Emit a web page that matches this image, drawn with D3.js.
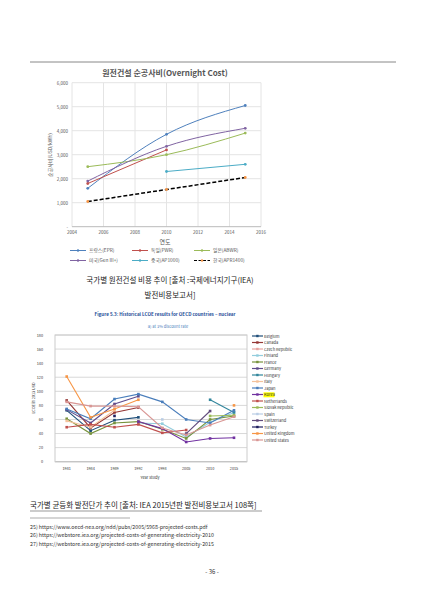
<!DOCTYPE html><html><head><meta charset="utf-8"><script src="https://cdn.jsdelivr.net/npm/d3@7"></script>
<style>body{margin:0;background:#fff}svg{display:block}text{font-family:"Noto Sans CJK KR","Noto Sans",sans-serif}</style></head><body>
<svg id="s" width="424" height="599"></svg>
<script>
// ---- top chart data
const topYears=[2005,2010,2015];
const topNames=["프랑스(EPR)","독일(PWR)","일본(ABWR)","미국(Gen III+)","중국(AP1000)","한국(APR1400)"];
const topColors=["#4f81bd","#c0504d","#9bbb59","#8064a2","#4bacc6","#000"];
const france=[1600,3850,5050];
const germany=[1800,3200,null];
const japan=[2500,3000,3900];
const usa=[1900,3350,4100];
const china=[null,2300,2600];
const korea=[1050,1550,2050];
const topTicks=[1000,2000,3000,4000,5000,6000];
const topXTicks=[2004,2006,2008,2010,2012,2014,2016];
// ---- bottom chart data
const studyYears=["1981","1984","1989","1992","1998","2005","2010","2015"];
const bNames=["Belgium","Canada","Czech Republic","Finland","France","Germany","Hungary","Italy","Japan","Korea","Netherlands","Slovak Republic","Spain","Switzerland","Turkey","United Kingdom","United States"];
const bColors=["#1f4e79","#953735","#e6a3a0","#93cddd","#77933c","#5f4b8b","#31859c","#f4c29b","#4a7ebb","#7030a0","#c0504d","#9bbb59","#b9cde5","#604a7b","#1f1f5f","#f79646","#d99694"];
const belgium=[73,44,59,63,null,null,null,null];
const canada=[87,48,70,77,null,null,null,null];
const czech=[null,null,null,null,null,null,null,64];
const finland=[null,null,null,55,54,35,56,70];
const franceB=[61,40,55,57,46,33,60,65];
const germanyB=[74,55,82,93,null,null,null,null];
const hungary=[null,null,null,null,null,null,88,70];
const italy=[58,49,73,null,null,null,null,null];
const japanB=[75,61,89,96,85,60,55,73];
const koreaB=[null,null,null,57,47,28,33,34];
const netherlands=[49,53,49,53,41,45,null,null];
const slovak=[null,null,null,null,null,null,65,66];
const spain=[null,null,null,null,60,null,null,null];
const switzerland=[null,null,null,null,null,40,72,null];
const turkey=[null,null,65,null,null,null,null,null];
const uk=[121,63,75,88,null,null,null,80];
const us=[85,79,79,78,48,38,52,64];
const bTicks=[0,20,40,60,80,100,120,140,160,180];

const svg=d3.select("#s");
svg.append("line").attr("x1",30).attr("x2",396).attr("y1",62).attr("y2",62).attr("stroke","#888");

// top chart
const x=d3.scaleLinear().domain([2004,2016]).range([72,261]);
const y=d3.scaleLinear().domain([0,6000]).range([226.7,82.7]);
const g=svg.append("g");
topTicks.forEach(t=>g.append("line").attr("x1",72).attr("x2",261).attr("y1",y(t)).attr("y2",y(t)).attr("stroke","#e4e4e4"));
topXTicks.forEach(t=>g.append("line").attr("x1",x(t)).attr("x2",x(t)).attr("y1",82.7).attr("y2",226.7).attr("stroke","#e4e4e4"));
g.append("line").attr("x1",72).attr("x2",261).attr("y1",226.7).attr("y2",226.7).attr("stroke","#bbb");
[0,...topTicks].forEach(t=>g.append("text").attr("x",68).attr("y",y(t)+2).attr("text-anchor","end").attr("font-size",4.5).attr("fill","#555").text(t?d3.format(",")(t):"-"));
topXTicks.forEach(t=>g.append("text").attr("x",x(t)).attr("y",234).attr("text-anchor","middle").attr("font-size",4.5).attr("fill","#555").text(t));
g.append("text").attr("x",165).attr("y",76).attr("text-anchor","middle").attr("font-size",8).attr("font-weight","bold").attr("fill","#555").text("원전건설 순공사비(Overnight Cost)");
g.append("text").attr("x",165).attr("y",244).attr("text-anchor","middle").attr("font-size",6).attr("fill","#555").text("연도");
g.append("text").attr("transform","translate(52,155) rotate(-90)").attr("text-anchor","middle").attr("font-size",5).attr("fill","#555").text("순공사비(USD/kWh)");
[france,germany,japan,usa,china,korea].forEach((s,i)=>{
  const pts=topYears.map((yr,j)=>[yr,s[j]]).filter(p=>p[1]!=null);
  const ln=d3.line().x(p=>x(p[0])).y(p=>y(p[1])).curve(i==5?d3.curveLinear:d3.curveMonotoneX);
  g.append("path").attr("d",ln(pts)).attr("fill","none").attr("stroke",topColors[i]).attr("stroke-width",i==5?1.5:1).attr("stroke-dasharray",i==5?"4,2":null);
  pts.forEach(p=>g.append("circle").attr("cx",x(p[0])).attr("cy",y(p[1])).attr("r",1.4).attr("fill",i==5?"#f79646":topColors[i]));
});
topNames.forEach((n,i)=>{
  const lx=70+(i%3)*62, ly=252+Math.floor(i/3)*10;
  g.append("line").attr("x1",lx).attr("x2",lx+16).attr("y1",ly-1.5).attr("y2",ly-1.5).attr("stroke",topColors[i]).attr("stroke-dasharray",i==5?"3,1.5":null);
  g.append("circle").attr("cx",lx+8).attr("cy",ly-1.5).attr("r",1.2).attr("fill",i==5?"#f79646":topColors[i]);
  g.append("text").attr("x",lx+19).attr("y",ly).attr("font-size",4.8).attr("fill","#555").text(n);
});
svg.append("text").attr("x",170).attr("y",283).attr("text-anchor","middle").attr("font-size",7.5).attr("fill","#222").text("국가별 원전건설 비용 추이 [출처 :국제에너지기구(IEA)");
svg.append("text").attr("x",170).attr("y",298).attr("text-anchor","middle").attr("font-size",7.5).attr("fill","#222").text("발전비용보고서]");

// bottom chart
const bx=d3.scalePoint().domain(studyYears).range([66.7,234]);
const by=d3.scaleLinear().domain([0,180]).range([461.7,335]);
const b=svg.append("g");
svg.append("text").attr("x",165).attr("y",316).attr("text-anchor","middle").attr("font-size",4.6).attr("font-weight","bold").attr("fill","#1f4e99").text("Figure 5.3: Historical LCOE results for OECD countries – nuclear");
svg.append("text").attr("x",168).attr("y",328).attr("text-anchor","middle").attr("font-size",4).attr("fill","#4a7ebb").text("a) at 3% discount rate");
bTicks.forEach(t=>{
  b.append("line").attr("x1",55).attr("x2",247).attr("y1",by(t)).attr("y2",by(t)).attr("stroke",t?"#d8d8d8":"#999");
  b.append("text").attr("x",43).attr("y",by(t)+1.5).attr("text-anchor","end").attr("font-size",3.8).attr("fill","#333").text(t);
});
b.append("rect").attr("x",55).attr("y",335).attr("width",192).attr("height",126.7).attr("fill","none").attr("stroke","#ccc");
studyYears.forEach(t=>b.append("text").attr("x",bx(t)).attr("y",470).attr("text-anchor","middle").attr("font-size",3.8).attr("fill","#333").text(t));
b.append("text").attr("x",150).attr("y",479).attr("text-anchor","middle").attr("font-size",4).attr("fill","#333").text("Year study");
b.append("text").attr("transform","translate(35,398) rotate(-90)").attr("text-anchor","middle").attr("font-size",3.8).attr("fill","#333").text("LCOE in 2013 USD");
const bSeries=[belgium,canada,czech,finland,franceB,germanyB,hungary,italy,japanB,koreaB,netherlands,slovak,spain,switzerland,turkey,uk,us];
const bl=d3.line().defined(d=>d[1]!=null).x(d=>bx(d[0])).y(d=>by(d[1]));
bSeries.forEach((s,i)=>{
  const pts=studyYears.map((yr,j)=>[yr,s[j]]);
  b.append("path").attr("d",bl(pts)).attr("fill","none").attr("stroke",bColors[i]).attr("stroke-width",1.1);
  pts.filter(p=>p[1]!=null).forEach(p=>b.append("rect").attr("x",bx(p[0])-1.3).attr("y",by(p[1])-1.3).attr("width",2.6).attr("height",2.6).attr("fill",bColors[i]));
});
bNames.forEach((n,i)=>{
  const ly=337+i*6.5;
  if(n==="Korea") b.append("rect").attr("x",263.5).attr("y",ly-3.2).attr("width",11).attr("height",5).attr("fill","#ffff00");
  b.append("line").attr("x1",252).attr("x2",263).attr("y1",ly-1).attr("y2",ly-1).attr("stroke",bColors[i]).attr("stroke-width",1.2);
  b.append("rect").attr("x",256.2).attr("y",ly-2.2).attr("width",2.4).attr("height",2.4).attr("fill",bColors[i]);
  b.append("text").attr("x",264).attr("y",ly+0.5).attr("font-size",4).attr("fill","#333").text(n);
});
svg.append("text").attr("x",30).attr("y",508).attr("font-size",7.5).attr("fill","#222").text("국가별 균등화 발전단가 추이 [출처: IEA 2015년판 발전비용보고서 108쪽]");
svg.append("line").attr("x1",30).attr("x2",262).attr("y1",511).attr("y2",511).attr("stroke","#555").attr("stroke-width",0.6);
svg.append("line").attr("x1",30).attr("x2",130).attr("y1",518).attr("y2",518).attr("stroke","#555").attr("stroke-width",0.5);
["25) https://www.oecd-nea.org/ndd/pubs/2005/5968-projected-costs.pdf","26) https://webstore.iea.org/projected-costs-of-generating-electricity-2010","27) https://webstore.iea.org/projected-costs-of-generating-electricity-2015"].forEach((t,i)=>
  svg.append("text").attr("x",30).attr("y",529+i*8.3).attr("font-size",5.3).attr("fill","#333").text(t));
svg.append("text").attr("x",212).attr("y",574).attr("text-anchor","middle").attr("font-size",6).attr("fill","#333").text("- 36 -");
</script></body></html>
